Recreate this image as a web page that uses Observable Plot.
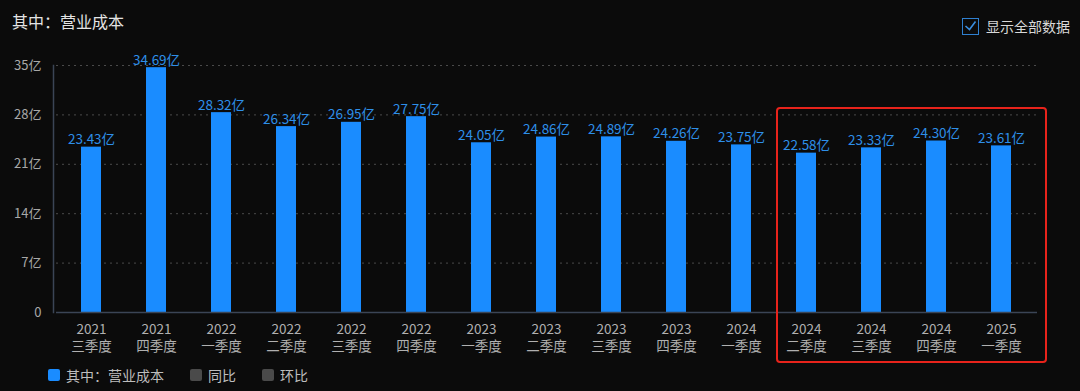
<!DOCTYPE html>
<html>
<head>
<meta charset="utf-8">
<script src="https://cdn.jsdelivr.net/npm/d3@7"></script>
<script src="https://cdn.jsdelivr.net/npm/@observablehq/plot@0.6"></script>
<style>
  html, body { margin: 0; padding: 0; background: #0b0b0b; }
  body { width: 1080px; height: 391px; position: relative; overflow: hidden;
         font-family: "Noto Sans CJK SC", "Noto Sans", sans-serif; }
  #title { position: absolute; left: 12px; top: 10px; font-size: 16px; line-height: 22px; color: #e4e4e4; }
  #toggle { position: absolute; left: 962px; top: 16px; display: flex; align-items: center; }
  #toggle .box { width: 17px; height: 17px; border: 1.5px solid #2f80d0; box-sizing: border-box; position: relative; }
  #toggle span { margin-left: 7px; font-size: 14px; color: #d8d8d8; }
  #chart { position: absolute; left: 0; top: 40px; }
  #legend { position: absolute; left: 48px; top: 365px; display: flex; align-items: center; font-size: 14px; line-height: 20px; color: #bdbdbd; }
  #legend .sw { width: 12px; height: 12px; border-radius: 2px; margin-right: 6px; }
  #legend .item { display: flex; align-items: center; margin-right: 26px; }
  #highlight { position: absolute; left: 776px; top: 107px; width: 271px; height: 256px;
               border: 2.5px solid #e8231b; border-radius: 4px; box-sizing: border-box; }
</style>
</head>
<body>
<div id="title">其中：营业成本</div>
<div id="toggle">
  <div class="box">
    <svg width="17" height="17" style="position:absolute;left:-1.5px;top:-1.5px">
      <path d="M3.5 9 L7.5 12.5 L13.5 4.5" fill="none" stroke="#3a8ee0" stroke-width="1.6"/>
    </svg>
  </div>
  <span>显示全部数据</span>
</div>
<div id="chart"></div>
<div id="legend">
  <div class="item"><div class="sw" style="background:#1a8cff"></div>其中：营业成本</div>
  <div class="item"><div class="sw" style="background:#4a4a4a"></div>同比</div>
  <div class="item"><div class="sw" style="background:#4a4a4a"></div>环比</div>
</div>
<div id="highlight"></div>
<script>
const years = ["2021","2021","2022","2022","2022","2022","2023","2023","2023","2023","2024","2024","2024","2024","2025"];
const quarters = ["三季度","四季度","一季度","二季度","三季度","四季度","一季度","二季度","三季度","四季度","一季度","二季度","三季度","四季度","一季度"];
const values = [23.43, 34.69, 28.32, 26.34, 26.95, 27.75, 24.05, 24.86, 24.89, 24.26, 23.75, 22.58, 23.33, 24.30, 23.61];
const yTicks = [0, 7, 14, 21, 28, 35];

const data = values.map((v, i) => ({ period: years[i] + "\n" + quarters[i], value: v }));
const periods = data.map(d => d.period);

const chart = Plot.plot({
  width: 1080,
  height: 320,
  marginLeft: 56,
  marginRight: 43,
  marginTop: 25,
  marginBottom: 48,
  style: { background: "transparent", fontFamily: "\"Noto Sans CJK SC\", sans-serif" },
  x: { domain: periods, paddingInner: 0.69, paddingOuter: 0.345, align: 0.5 },
  y: { domain: [0, 35], ticks: yTicks },
  marks: [
    Plot.ruleY(yTicks.filter(t => t > 0), { stroke: "#4a4a4a", strokeDasharray: "2,4", strokeWidth: 1 }),
    Plot.barY(data, { x: "period", y: "value", fill: "#1a8cff" }),
    Plot.ruleY([0], { stroke: "#3b4556", strokeWidth: 1.5 }),
    Plot.frame({ anchor: "left", stroke: "#3b4556", strokeWidth: 1.5, dx: -3 }),
    Plot.text(data, { x: "period", y: "value", text: d => d.value.toFixed(2) + "亿", fill: "#2e8fe8", fontSize: 13.5, lineAnchor: "bottom", dy: -3 }),
    Plot.axisY({ ticks: yTicks, tickSize: 0, tickPadding: 15, tickFormat: d => d === 0 ? "0" : d + "亿", fill: "#a8a8a8", fontSize: 13, label: null }),
    Plot.axisX({ tickSize: 0, tickPadding: 10, fill: "#b0b0b0", fontSize: 13.5, lineHeight: 1.25, label: null })
  ]
});
document.getElementById("chart").appendChild(chart);
</script>
</body>
</html>
